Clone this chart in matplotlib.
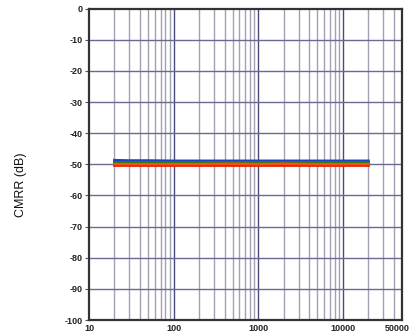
import numpy as np
import matplotlib
matplotlib.use("Agg")
import matplotlib.pyplot as plt
from matplotlib.ticker import FixedLocator, NullFormatter

plt.rcParams['font.family'] = ['Liberation Sans', 'DejaVu Sans']

# Frequency sweep (Hz) and CMRR for each channel (dB)
freq = [20, 30, 50, 100, 200, 500, 1000, 2000, 5000, 10000, 20000]
cmrr_blue = [-48.7, -48.8, -48.8, -48.9, -48.9, -48.9, -48.9, -48.9, -48.9, -48.9, -48.9]
cmrr_green = [-49.1, -49.1, -49.1, -49.1, -49.1, -49.1, -49.1, -49.1, -49.1, -49.1, -49.1]
cmrr_orange = [-49.9, -49.9, -49.9, -49.9, -49.9, -49.8, -49.9, -49.8, -49.9, -49.9, -49.9]
cmrr_red = [-50.2, -50.2, -50.2, -50.2, -50.2, -50.2, -50.2, -50.2, -50.2, -50.2, -50.2]

x_ticks = [10, 100, 1000, 10000, 50000]
x_tick_labels = ["10", "100", "1000", "10000", "50000"]
y_ticks = list(range(0, -101, -10))

fig = plt.figure(figsize=(4.10, 3.35), dpi=100)
ax = fig.add_axes([89 / 410, 15 / 335, 313 / 410, 311.3 / 335])

ax.set_xscale('log')
ax.set_xlim(10, 50000)
ax.set_ylim(-100, 0)

# Grid: every decade subdivision and every 10 dB
minor = [m * 10 ** e for e in range(1, 5) for m in range(2, 10) if m * 10 ** e < 50000]
for xv in minor:
    ax.axvline(xv, color='#a2a2b4', lw=1.0, zorder=1)
for xv in [100, 1000, 10000]:
    ax.axvline(xv, color='#4a4a78', lw=1.0, zorder=1)
for yv in y_ticks[1:-1]:
    ax.axhline(yv, color='#6a6a90', lw=1.0, zorder=1)

ax.plot(freq, cmrr_blue, color='#1f3fd0', lw=2.0, zorder=3)
ax.plot(freq, cmrr_green, color='#0a8a10', lw=2.2, zorder=4)
ax.plot(freq, cmrr_red, color='#e8200c', lw=2.0, zorder=4)
ax.plot(freq, cmrr_orange, color='#ff4a10', lw=1.8, zorder=5)

ax.xaxis.set_major_locator(FixedLocator(x_ticks))
ax.xaxis.set_minor_locator(FixedLocator([]))
ax.xaxis.set_minor_formatter(NullFormatter())
ax.set_xticks(x_ticks)
ax.set_xticklabels(x_tick_labels)
ax.set_yticks(y_ticks)
ax.set_yticklabels([str(v) for v in y_ticks])

ax.tick_params(axis='x', length=0, pad=3, labelsize=6.5, labelcolor='#222222')
ax.tick_params(axis='y', length=3, width=0.8, color='#555555', pad=1.5,
               labelsize=6.5, labelcolor='#222222')
for lbl in ax.get_xticklabels() + ax.get_yticklabels():
    lbl.set_fontweight('bold')
# keep the last frequency label inside the figure edge
ax.get_xticklabels()[-1].set_horizontalalignment('right')
ax.get_xticklabels()[-1].set_x(50000)
import matplotlib.transforms as mtransforms
ax.get_xticklabels()[-1].set_transform(
    ax.get_xticklabels()[-1].get_transform()
    + mtransforms.ScaledTranslation(8 / 100, 0, fig.dpi_scale_trans))

for side in ['left', 'bottom', 'top', 'right']:
    ax.spines[side].set_color('#333333')
    ax.spines[side].set_linewidth(1.6)
    ax.spines[side].set_zorder(6)

ax.set_ylabel('CMRR (dB)', fontsize=9, color='#111111')
ax.yaxis.set_label_coords(-0.199, 0.435)

fig.savefig('out.png', dpi=100, facecolor='white')
